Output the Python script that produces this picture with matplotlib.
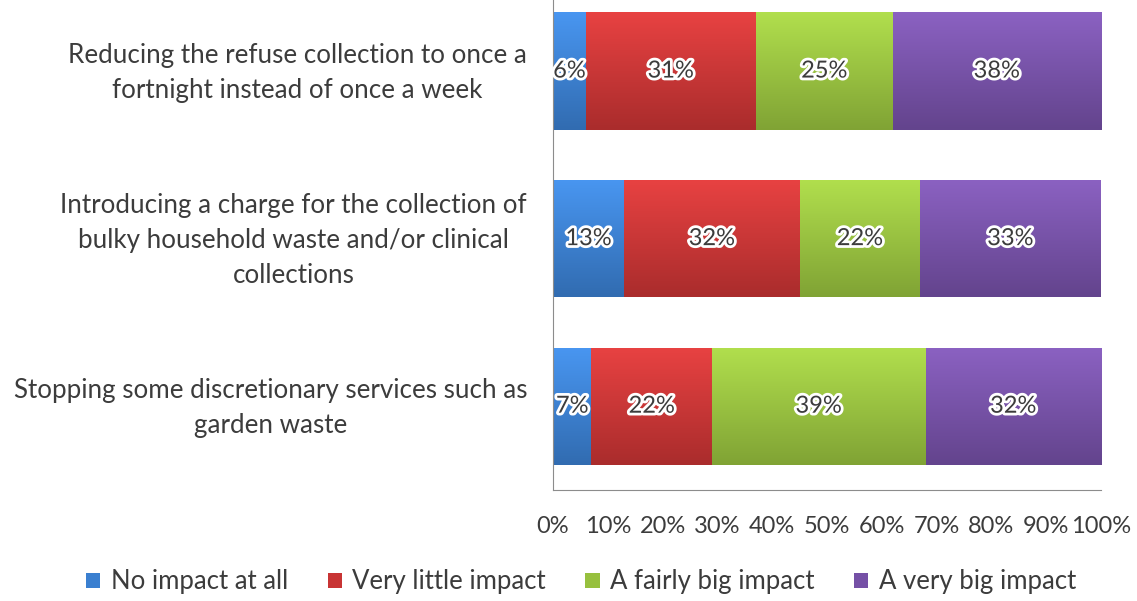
import matplotlib.pyplot as plt
import matplotlib.patheffects as pe
import matplotlib.colors as mcolors
import matplotlib.transforms as mtransforms
import numpy as np

plt.rcParams['font.family'] = ['Lato', 'DejaVu Sans']

questions = [
    "Reducing the refuse collection to once a\nfortnight instead of once a week",
    "Introducing a charge for the collection of\nbulky household waste and/or clinical\ncollections",
    "Stopping some discretionary services such as\ngarden waste",
]
series = ["No impact at all", "Very little impact", "A fairly big impact", "A very big impact"]
no_impact = [6, 13, 7]
very_little = [31, 32, 22]
fairly_big = [25, 22, 39]
very_big = [38, 33, 32]
colors = ["#3a7fd0", "#c83434", "#97c03e", "#7550a6"]
text_col = "#3c3c3c"

fig = plt.figure(figsize=(11.37, 6.01), dpi=100)
ax = fig.add_axes([0.4864, 0.1847, 0.4819, 0.8153])


def shade(bar, col):
    # vertical gradient: a bit lighter on top, darker at the bottom
    base = np.array(mcolors.to_rgb(col))
    t = np.linspace(0, 1, 64)[:, None]
    light = np.clip(base * 1.12 + 0.03, 0, 1)
    dark = base * 0.85
    grad = light * (1 - t) + dark * t
    img = np.repeat(grad[:, None, :], 2, axis=1)
    x0, y0 = bar.get_x(), bar.get_y()
    w, h = bar.get_width(), bar.get_height()
    im = ax.imshow(img, extent=(x0, x0 + w, y0 + h, y0), origin="upper",
                   aspect="auto", zorder=bar.get_zorder() + 0.1, interpolation="bilinear")
    im.set_clip_path(bar)


y = np.arange(len(questions))
left = np.zeros(len(questions))
for name, vals, col in zip(series, [no_impact, very_little, fairly_big, very_big], colors):
    vals = np.array(vals, dtype=float)
    bars = ax.barh(y, vals, left=left, height=0.7, color=col, label=name)
    for b, v in zip(bars, vals):
        shade(b, col)
        ax.text(b.get_x() + b.get_width() / 2, b.get_y() + b.get_height() / 2,
                f"{v:.0f}%", ha="center", va="center", fontsize=17, color=text_col, zorder=5,
                path_effects=[pe.withStroke(linewidth=4, foreground="white")])
    left += vals

ax.set_xlim(0, 100)
ax.set_ylim(2.5, -0.424)
ax.set_xticks(np.arange(0, 101, 10))
ax.set_xticklabels([f"{t}%" for t in range(0, 101, 10)], fontsize=17, color=text_col)
ax.tick_params(axis="x", length=0, pad=19)

# category labels: right-aligned block, each block centred line by line
ax.set_yticks(y)
ax.set_yticklabels([])
ax.tick_params(axis="y", length=0)
lab_tr = mtransforms.blended_transform_factory(ax.transAxes, ax.transData) + \
    mtransforms.ScaledTranslation(-26 / 100, -2 / 100, fig.dpi_scale_trans)
for yi, q in zip(y, questions):
    ax.text(0, yi, q, transform=lab_tr, ha="right", va="center", multialignment="center",
            fontsize=18.7, color=text_col, linespacing=1.5)

for s in ["top", "right"]:
    ax.spines[s].set_visible(False)
for s in ["left", "bottom"]:
    ax.spines[s].set_color("#8c8c8c")

fig.legend(loc="center", bbox_to_anchor=(581 / 1137, 1 - 582 / 601), ncol=4, frameon=False,
           fontsize=18.5, handlelength=0.55, handleheight=0.55, columnspacing=1.55,
           handletextpad=0.4, labelcolor=text_col)

fig.savefig("out.png", dpi=100)
